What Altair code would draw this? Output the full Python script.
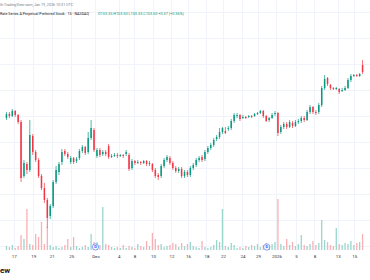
import altair as alt
import pandas as pd

GREEN = "#089981"
RED = "#F23645"

opens = [101.20, 101.40, 101.30, 101.55, 101.35, 101.00, 98.30, 98.90, 98.60, 100.30,
         99.50, 99.10, 98.30, 97.70, 97.10, 96.30, 96.80, 98.00, 98.50, 99.00,
         99.55, 99.40, 99.00, 99.20, 99.05, 99.20, 99.55, 99.75, 99.50, 100.20,
         100.60, 99.30, 99.60, 99.40, 99.50, 99.80, 99.25, 99.30, 99.35, 99.30,
         99.35, 99.40, 99.35, 98.70, 99.05, 98.95, 99.00, 98.95, 99.05, 98.90,
         98.90, 98.60, 98.35, 98.30, 98.80, 99.10, 99.20, 98.95, 98.70, 98.55,
         98.65, 98.30, 98.50, 98.35, 98.70, 98.85, 99.10, 99.25, 99.15, 99.50,
         99.70, 99.85, 100.15, 100.25, 100.50, 100.55, 100.65, 100.70, 101.05, 101.30,
         101.35, 101.20, 101.25, 101.25, 101.30, 101.30, 101.40, 101.45, 101.55, 101.30,
         101.10, 101.20, 101.40, 101.45, 100.50, 100.75, 100.90, 100.75, 100.95, 100.80,
         101.00, 101.05, 101.20, 101.10, 101.50, 101.75, 101.50, 101.50, 101.85, 102.70,
         103.20, 102.85, 102.70, 102.65, 102.65, 102.55, 102.60, 102.70, 103.10, 103.30,
         103.35, 103.30, 103.85]
closes = [101.40, 101.30, 101.55, 101.35, 101.00, 98.20, 98.95, 98.60, 100.35, 99.50,
          99.10, 98.30, 97.70, 97.10, 96.20, 96.80, 98.00, 98.60, 98.90, 99.50,
          99.40, 99.25, 99.20, 99.00, 99.15, 99.55, 99.75, 99.45, 100.20, 100.70,
          99.60, 99.60, 99.35, 99.50, 99.40, 99.25, 99.30, 99.35, 99.30, 99.35,
          99.30, 99.50, 98.65, 99.05, 98.95, 99.00, 98.95, 99.05, 98.90, 98.95,
          98.60, 98.30, 98.25, 98.80, 99.10, 99.25, 98.95, 98.70, 98.55, 98.65,
          98.30, 98.50, 98.35, 98.70, 98.85, 99.10, 99.20, 99.10, 99.50, 99.70,
          99.85, 100.10, 100.25, 100.50, 100.70, 100.45, 100.70, 101.05, 101.35, 101.35,
          101.15, 101.25, 101.20, 101.30, 101.25, 101.40, 101.45, 101.55, 101.30, 101.05,
          101.20, 101.35, 101.45, 100.45, 100.75, 100.90, 100.75, 101.00, 100.80, 101.00,
          101.05, 101.20, 101.10, 101.50, 101.75, 101.50, 101.45, 101.85, 102.70, 103.15,
          102.90, 102.70, 102.65, 102.70, 102.50, 102.60, 102.70, 103.10, 103.30, 103.35,
          103.30, 103.40, 103.50]
highs = [101.50, 101.50, 101.65, 101.60, 101.40, 101.10, 99.10, 99.00, 101.10, 100.40,
         99.60, 99.20, 98.40, 97.95, 97.20, 96.90, 98.10, 98.80, 99.00, 99.65,
         99.65, 99.50, 99.30, 99.25, 99.25, 99.65, 99.85, 99.80, 100.50, 101.10,
         100.70, 99.70, 99.70, 99.60, 99.60, 99.90, 99.40, 99.45, 99.45, 99.40,
         99.40, 99.60, 99.45, 99.15, 99.10, 99.10, 99.05, 99.10, 99.10, 99.05,
         98.95, 98.70, 98.45, 98.90, 99.20, 99.35, 99.30, 99.05, 98.80, 98.75,
         98.75, 98.60, 98.60, 98.80, 98.95, 99.20, 99.30, 99.35, 99.60, 99.80,
         99.95, 100.20, 100.35, 100.70, 100.75, 100.75, 100.80, 101.15, 101.45, 101.45,
         101.40, 101.35, 101.30, 101.35, 101.35, 101.45, 101.50, 101.60, 101.60, 101.35,
         101.25, 101.45, 101.55, 101.50, 100.85, 101.00, 101.00, 101.10, 101.05, 101.10,
         101.15, 101.30, 101.30, 101.60, 101.85, 101.80, 101.60, 101.95, 102.80, 103.35,
         103.25, 102.90, 102.75, 102.75, 102.70, 102.70, 102.80, 103.20, 103.40, 103.40,
         103.40, 103.45, 104.10]
lows = [101.10, 101.20, 101.25, 101.25, 100.90, 98.00, 98.20, 98.40, 98.50, 99.35,
        99.00, 98.20, 97.60, 96.95, 95.70, 96.15, 96.70, 97.90, 98.35, 98.85,
        99.30, 99.15, 98.90, 98.90, 98.95, 99.10, 99.45, 99.35, 99.40, 100.10,
        99.50, 99.20, 99.25, 99.30, 99.30, 99.15, 99.20, 99.25, 99.20, 99.25,
        99.20, 99.30, 98.55, 98.60, 98.85, 98.90, 98.85, 98.90, 98.80, 98.80,
        98.50, 98.20, 98.10, 98.20, 98.70, 99.00, 98.85, 98.60, 98.45, 98.45,
        98.20, 98.20, 98.25, 98.25, 98.60, 98.75, 99.00, 99.00, 99.05, 99.40,
        99.60, 99.75, 100.05, 100.15, 100.40, 100.40, 100.55, 100.60, 100.95, 101.20,
        101.05, 101.15, 101.15, 101.20, 101.20, 101.25, 101.35, 101.40, 101.20, 101.00,
        101.00, 101.15, 101.30, 100.30, 100.40, 100.65, 100.65, 100.70, 100.70, 100.75,
        100.90, 100.95, 101.00, 101.05, 101.40, 101.40, 101.35, 101.40, 101.75, 102.60,
        102.80, 102.60, 102.60, 102.60, 102.40, 102.50, 102.55, 102.65, 103.00, 103.25,
        103.25, 103.25, 103.40]
volumes = [400, 300, 500, 200, 400, 1500, 1100, 4100, 600, 500,
           1600, 1300, 2800, 600, 2300, 500, 300, 400, 200, 300,
           500, 1100, 300, 1300, 400, 200, 300, 500, 300, 1600,
           800, 800, 500, 4300, 600, 500, 300, 200, 300, 200,
           500, 200, 400, 300, 200, 600, 400, 300, 900, 400,
           1700, 1100, 500, 600, 300, 400, 500, 700, 600, 300,
           700, 400, 600, 800, 400, 300, 200, 900, 300, 200,
           300, 500, 1000, 800, 4100, 400, 300, 700, 500, 200,
           300, 200, 400, 300, 500, 400, 600, 300, 500, 700,
           400, 600, 800, 5100, 600, 400, 1100, 500, 800, 400,
           600, 1500, 500, 400, 600, 900, 500, 700, 3000, 1000,
           800, 500, 400, 2200, 600, 500, 700, 600, 900, 500,
           700, 800, 1600]
idx = list(range(len(opens)))

tick_pos = [2.5, 9.17, 15.5, 22.17, 30.5, 38.5, 43.83, 50.17, 56.5, 62.17,
            68.5, 74.17, 80.83, 86.17, 92.5, 99.17, 105.5, 113.5, 119.17]
tick_labels = ["17", "19", "21", "25", "Dec", "4", "8", "10", "12", "16",
               "18", "22", "24", "29", "2026", "5", "8", "13", "15"]
price_grid = [106.5, 105.2, 103.9, 102.6, 101.3, 100.0, 98.7, 97.4, 96.1, 94.8]
dividend_pos = [30.5, 89.17]

header_line1 = "th TradingView.com, Jan 19, 2026 10:31 UTC"
header_name = "Rate Series A Perpetual Preferred Stock \u00b7 15 \u00b7 NASDAQ"
header_ohlc = "O103.35 H103.50 L103.35 C103.50 +0.37 (+0.36%)"
brand = "ew"

df = pd.DataFrame({"i": idx, "open": opens, "close": closes,
                   "high": highs, "low": lows, "vol": volumes})

label_expr = "[" + ",".join("'%s'" % t for t in tick_labels) + "][indexof([" + \
    ",".join(str(p) for p in tick_pos) + "], datum.value)]"

x_axis = alt.Axis(values=tick_pos, labelExpr=label_expr, grid=True, gridColor="#F0F3FA",
                  gridWidth=1, domain=False, ticks=False, labelFontSize=4.4,
                  labelColor="#2A2E39", labelPadding=4, title=None, labelFont="Roboto",
                  labelFlush=False, labelOverlap=False)
x_enc = alt.X("i:Q", scale=alt.Scale(domain=[-0.5, 122.833], nice=False, zero=False),
              axis=x_axis)

price_scale = alt.Scale(domain=[94.6, 107.1], nice=False, zero=False)
color_cond = alt.condition("datum.open <= datum.close", alt.value(GREEN), alt.value(RED))
vol_color = alt.condition("datum.open <= datum.close", alt.value("#9AD6CB"), alt.value("#F9B0B5"))

base = alt.Chart(df)

volume = base.mark_bar(size=1.3).encode(
    x=x_enc,
    y=alt.Y("vol:Q", scale=alt.Scale(domain=[0, 25000], nice=False), axis=None),
    color=vol_color,
)

wicks = base.mark_rule(strokeWidth=0.7).encode(
    x=x_enc,
    y=alt.Y("low:Q", scale=price_scale,
            axis=alt.Axis(values=price_grid, grid=True, gridColor="#F0F3FA", labels=False,
                          ticks=False, domain=False, title=None)),
    y2="high:Q",
    color=color_cond,
)

bodies = base.mark_bar(size=1.5).encode(
    x=x_enc,
    y=alt.Y("open:Q", scale=price_scale, axis=None),
    y2="close:Q",
    color=color_cond,
)

div_df = pd.DataFrame({"i": dividend_pos, "t": ["D", "D"]})
div_circles = alt.Chart(div_df).mark_point(shape="circle", size=40, filled=True,
                                           fill="white", stroke="#2962FF",
                                           strokeWidth=0.8).encode(
    x=x_enc, y=alt.value(247))
div_text = alt.Chart(div_df).mark_text(fontSize=4, color="#2962FF", font="Roboto",
                                       fontWeight="bold").encode(
    x=x_enc, y=alt.value(247.3), text="t:N")

h1 = alt.Chart(pd.DataFrame({"t": [header_line1]})).mark_text(
    align="left", baseline="middle", fontSize=3.7, color="#787B86", font="Roboto").encode(
    x=alt.value(0), y=alt.value(5), text="t:N")
h2 = alt.Chart(pd.DataFrame({"t": [header_name]})).mark_text(
    align="left", baseline="middle", fontSize=3.7, color="#131722", font="Roboto").encode(
    x=alt.value(0), y=alt.value(13.5), text="t:N")
h3 = alt.Chart(pd.DataFrame({"t": [header_ohlc]})).mark_text(
    align="left", baseline="middle", fontSize=3.8, color=GREEN, font="Roboto").encode(
    x=alt.value(98), y=alt.value(13.5), text="t:N")
logo = alt.Chart(pd.DataFrame({"t": [brand]})).mark_text(
    align="left", baseline="middle", fontSize=8, color="#131722", font="Roboto",
    fontWeight="bold").encode(x=alt.value(0), y=alt.value(270.5), text="t:N")

chart = alt.layer(volume, wicks, bodies, div_circles, div_text, h1, h2, h3, logo).resolve_scale(
    y="independent"
).properties(
    width=370, height=250,
    autosize=alt.AutoSizeParams(type="none"),
    padding={"left": 0, "top": 0, "right": 0, "bottom": 30},
    background="white",
).configure_view(stroke=None)

chart.save("out.html", embed_options={"renderer": "svg", "actions": False})
